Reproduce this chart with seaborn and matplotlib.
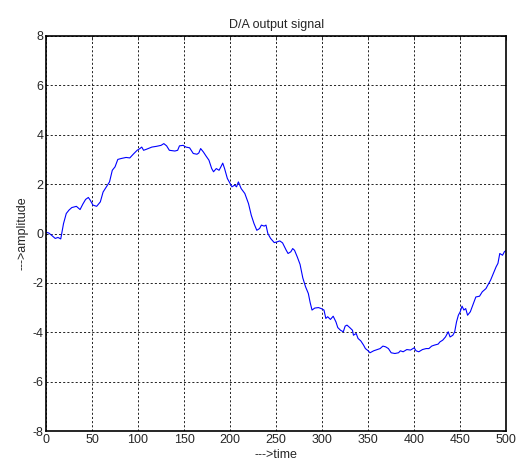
import matplotlib
matplotlib.use("Agg")
import matplotlib.pyplot as plt
import seaborn as sns
import pandas as pd

time = [0, 3, 6, 10, 13, 16, 19, 22, 25, 28, 33, 37, 40, 43, 46, 48, 51, 55, 59, 62,
        66, 69, 72, 75, 78, 82, 87, 91, 95, 99, 102, 104, 106, 109, 115, 120, 125, 128, 131, 134,
        140, 143, 145, 149, 152, 156, 160, 164, 166, 168, 171, 174, 177, 180, 182, 185, 188, 190, 192, 194,
        197, 200, 202, 205, 207, 209, 212, 216, 220, 223, 226, 229, 232, 234, 237, 239, 241, 244, 248, 251,
        254, 257, 261, 263, 266, 268, 270, 273, 276, 279, 282, 285, 287, 289, 292, 296, 299, 302, 304, 306,
        309, 312, 315, 317, 320, 323, 325, 327, 330, 333, 334, 337, 339, 342, 345, 347, 350, 352, 356, 360,
        363, 366, 369, 372, 375, 379, 383, 385, 388, 392, 396, 400, 402, 405, 409, 413, 416, 419, 422, 426,
        428, 431, 434, 437, 439, 442, 444, 446, 448, 450, 452, 454, 456, 458, 461, 463, 467, 471, 474, 478,
        480, 483, 486, 489, 491, 493, 496, 498, 500]
amplitude = [0.05, 0.02, -0.07, -0.2, -0.16, -0.22, 0.4, 0.81, 0.95, 1.05, 1.1, 0.97, 1.19, 1.38, 1.46, 1.35, 1.15, 1.1, 1.28, 1.68,
             1.91, 2.09, 2.56, 2.7, 3.0, 3.04, 3.08, 3.06, 3.22, 3.37, 3.44, 3.5, 3.37, 3.41, 3.5, 3.53, 3.57, 3.64, 3.55, 3.37,
             3.34, 3.37, 3.55, 3.57, 3.5, 3.47, 3.24, 3.21, 3.26, 3.44, 3.3, 3.13, 2.97, 2.63, 2.5, 2.63, 2.56, 2.7, 2.85, 2.63,
             2.23, 2.03, 1.89, 1.96, 1.89, 2.09, 1.82, 1.62, 1.21, 0.74, 0.40, 0.13, 0.2, 0.34, 0.30, 0.34, 0.0, -0.2, -0.37, -0.34,
             -0.30, -0.38, -0.68, -0.81, -0.74, -0.61, -0.68, -0.95, -1.25, -1.8, -2.16, -2.43, -2.8, -3.1, -3.02, -3.0, -3.04, -3.1, -3.44, -3.37,
             -3.48, -3.35, -3.58, -3.81, -3.92, -3.98, -3.75, -3.71, -3.81, -3.92, -4.12, -4.05, -4.25, -4.35, -4.52, -4.66, -4.75, -4.83, -4.75, -4.70,
             -4.66, -4.56, -4.59, -4.66, -4.83, -4.86, -4.83, -4.75, -4.79, -4.70, -4.72, -4.63, -4.75, -4.79, -4.70, -4.66, -4.66, -4.56, -4.52, -4.48,
             -4.39, -4.32, -4.19, -3.98, -4.19, -4.12, -3.98, -3.58, -3.31, -3.17, -2.94, -3.1, -3.04, -3.31, -3.17, -2.97, -2.57, -2.54, -2.36, -2.23,
             -2.09, -1.89, -1.62, -1.35, -1.21, -0.81, -0.88, -0.74, -0.68]
x_ticks = [0, 50, 100, 150, 200, 250, 300, 350, 400, 450, 500]
y_ticks = [-8, -6, -4, -2, 0, 2, 4, 6, 8]

sns.set_style("white")
plt.rcParams['font.family'] = ['Liberation Sans', 'DejaVu Sans']
plt.rcParams['axes.unicode_minus'] = False

df = pd.DataFrame({"time": time, "amplitude": amplitude})

fig = plt.figure(figsize=(5.2, 4.67), dpi=100)
ax = fig.add_axes([0.0885, 0.077, 0.885, 0.846])
sns.lineplot(data=df, x="time", y="amplitude", ax=ax, color="#0000ff",
             linewidth=0.8, sort=False, estimator=None)

ax.set_xlim(0, 500)
ax.set_ylim(-8, 8)
ax.set_xticks(x_ticks)
ax.set_yticks(y_ticks)
ax.grid(True, color="black", linestyle=(0, (2.5, 2.5)), linewidth=0.6)
ax.tick_params(direction="in", top=True, right=True, length=3, labelsize=9, width=0.6, pad=2)
for s in ax.spines.values():
    s.set_color("black")
    s.set_linewidth(1.2)
ax.set_title("D/A output signal", fontsize=9, pad=6)
ax.set_xlabel("--->time", fontsize=9, labelpad=2)
ax.set_ylabel("--->amplitude", fontsize=9, labelpad=3)

fig.savefig("out.png", dpi=100, facecolor="white")
